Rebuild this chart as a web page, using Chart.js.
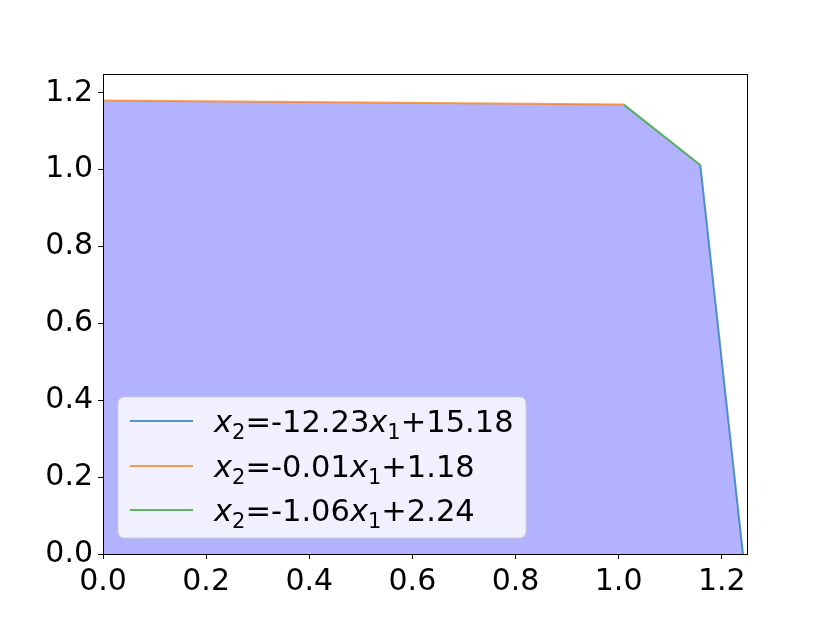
<!DOCTYPE html>
<html>
<head>
<meta charset="utf-8">
<script src="https://cdn.jsdelivr.net/npm/chart.js@4/dist/chart.umd.min.js"></script>
<style>
  html, body { margin: 0; padding: 0; background: #ffffff; }
  #wrap { width: 830px; height: 623px; position: relative; }
</style>
</head>
<body>
<div id="wrap"><canvas id="c" width="830" height="623"></canvas></div>
<script>
// ---- data ----
const regionX = [0, 1.0095, 1.1585, 1.2412];
const regionY = [1.18, 1.1699, 1.0122, 0];

const blueX = [1.1585, 1.2412];
const blueY = [1.0122, 0];
const orangeX = [0, 1.0095];
const orangeY = [1.18, 1.1699];
const greenX = [1.0095, 1.1585];
const greenY = [1.1699, 1.0122];

const seriesLabels = ['x_2=-12.23x_1+15.18', 'x_2=-0.01x_1+1.18', 'x_2=-1.06x_1+2.24'];
const seriesColors = ['rgba(31,119,180,0.75)', 'rgba(255,127,14,0.75)', 'rgba(44,160,44,0.75)'];
const tickValues = [0.0, 0.2, 0.4, 0.6, 0.8, 1.0, 1.2];
const axisMax = 1.249;

const pts = (xs, ys) => xs.map((x, i) => ({x: x, y: ys[i]}));

const FONT = '"DejaVu Sans", sans-serif';

const framePlugin = {
  id: 'frame',
  afterDatasetsDraw(chart) {
    const {ctx, chartArea: a} = chart;
    ctx.save();
    ctx.strokeStyle = '#000';
    ctx.lineWidth = 1;
    ctx.strokeRect(Math.round(a.left) + 0.5, Math.round(a.top) + 0.5,
                   Math.round(a.right - a.left), Math.round(a.bottom - a.top));
    ctx.restore();
  }
};

function drawMathLabel(ctx, text, x, y, size) {
  // tokens: x_N -> italic x with subscript N; rest -> regular text
  const re = /x_(\d)/g;
  let last = 0, m;
  const parts = [];
  while ((m = re.exec(text)) !== null) {
    if (m.index > last) parts.push({t: 'txt', s: text.slice(last, m.index)});
    parts.push({t: 'var', s: 'x', sub: m[1]});
    last = re.lastIndex;
  }
  if (last < text.length) parts.push({t: 'txt', s: text.slice(last)});
  let cx = x;
  for (const p of parts) {
    if (p.t === 'txt') {
      ctx.font = size + 'px ' + FONT;
      ctx.fillText(p.s, cx, y);
      cx += ctx.measureText(p.s).width;
    } else {
      ctx.font = 'italic ' + size + 'px ' + FONT;
      ctx.fillText(p.s, cx, y);
      cx += ctx.measureText(p.s).width;
      const ss = Math.round(size * 0.7);
      ctx.font = ss + 'px ' + FONT;
      ctx.fillText(p.sub, cx, y + size * 0.22);
      cx += ctx.measureText(p.sub).width;
    }
  }
}

const legendPlugin = {
  id: 'mathLegend',
  afterDraw(chart) {
    const {ctx} = chart;
    const bx = 118, by = 397, bw = 408, bh = 141, r = 6;
    ctx.save();
    ctx.beginPath();
    ctx.moveTo(bx + r, by);
    ctx.arcTo(bx + bw, by, bx + bw, by + bh, r);
    ctx.arcTo(bx + bw, by + bh, bx, by + bh, r);
    ctx.arcTo(bx, by + bh, bx, by, r);
    ctx.arcTo(bx, by, bx + bw, by, r);
    ctx.closePath();
    ctx.fillStyle = 'rgba(255,255,255,0.8)';
    ctx.fill();
    ctx.strokeStyle = 'rgba(204,204,204,0.8)';
    ctx.lineWidth = 1;
    ctx.stroke();
    const rowY = [421, 466, 510];
    ctx.fillStyle = '#000';
    ctx.textBaseline = 'alphabetic';
    seriesLabels.forEach((lab, i) => {
      ctx.beginPath();
      ctx.strokeStyle = seriesColors[i];
      ctx.lineWidth = 2;
      ctx.moveTo(130, rowY[i]);
      ctx.lineTo(193, rowY[i]);
      ctx.stroke();
      ctx.fillStyle = '#000';
      drawMathLabel(ctx, lab, 214, rowY[i] + 11, 30.5);
    });
    ctx.restore();
  }
};

const tickOpts = {
  color: '#000',
  font: {family: FONT, size: 30, lineHeight: 1.2},
  padding: 5,
  callback: v => Number(v).toFixed(1),
  autoSkip: false,
  maxRotation: 0
};

new Chart(document.getElementById('c'), {
  type: 'scatter',
  data: {
    datasets: [
      {label: 'region', data: pts(regionX, regionY), showLine: true, fill: 'origin',
       backgroundColor: 'rgba(0,0,255,0.3)', borderWidth: 0, pointRadius: 0, order: 10, tension: 0},
      {label: seriesLabels[0], data: pts(blueX, blueY), showLine: true, fill: false,
       borderColor: seriesColors[0], borderWidth: 2, pointRadius: 0, order: 1},
      {label: seriesLabels[1], data: pts(orangeX, orangeY), showLine: true, fill: false,
       borderColor: seriesColors[1], borderWidth: 2, pointRadius: 0, order: 1},
      {label: seriesLabels[2], data: pts(greenX, greenY), showLine: true, fill: false,
       borderColor: seriesColors[2], borderWidth: 2, pointRadius: 0, order: 1}
    ]
  },
  options: {
    responsive: false,
    animation: false,
    devicePixelRatio: 1,
    layout: {padding: {left: 0, top: 74, right: 83, bottom: 0}},
    plugins: {legend: {display: false}, tooltip: {enabled: false}},
    scales: {
      x: {
        type: 'linear', min: 0, max: axisMax,
        afterBuildTicks: s => { s.ticks = tickValues.map(v => ({value: v})); },
        afterFit: s => { s.height = 69; },
        grid: {drawOnChartArea: false, drawTicks: true, tickLength: 5, tickColor: '#000'},
        border: {display: true, color: '#000', width: 1},
        ticks: tickOpts
      },
      y: {
        type: 'linear', min: 0, max: axisMax,
        afterBuildTicks: s => { s.ticks = tickValues.map(v => ({value: v})); },
        afterFit: s => { s.width = 103; },
        grid: {drawOnChartArea: false, drawTicks: true, tickLength: 5, tickColor: '#000'},
        border: {display: true, color: '#000', width: 1},
        ticks: tickOpts
      }
    }
  },
  plugins: [framePlugin, legendPlugin]
});
</script>
</body>
</html>
